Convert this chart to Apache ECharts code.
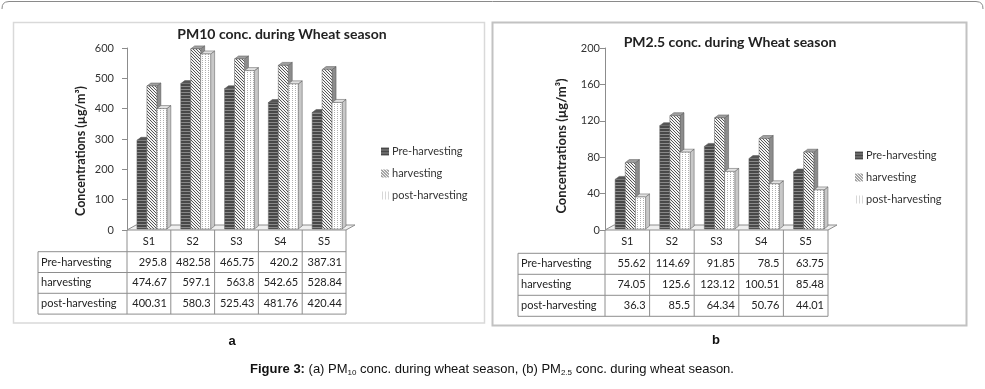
<!DOCTYPE html>
<html>
<head>
<meta charset="utf-8">
<script src="https://cdn.jsdelivr.net/npm/echarts@6/dist/echarts.min.js"></script>
<style>
html, body { margin: 0; padding: 0; background: #fff; }
#chart { width: 985px; height: 389px; }
</style>
</head>
<body>
<div id="chart"></div>
<script>
// sites and seasons
const sites = ['S1', 'S2', 'S3', 'S4', 'S5'];
const stages = ['Pre-harvesting', 'harvesting', 'post-harvesting'];

// PM10 (ug/m3)
const pm10Pre = [295.8, 482.58, 465.75, 420.2, 387.31];
const pm10Harv = [474.67, 597.1, 563.8, 542.65, 528.84];
const pm10Post = [400.31, 580.3, 525.43, 481.76, 420.44];

// PM2.5 (ug/m3)
const pm25Pre = [55.62, 114.69, 91.85, 78.5, 63.75];
const pm25Harv = [74.05, 125.6, 123.12, 100.51, 85.48];
const pm25Post = [36.3, 85.5, 64.34, 50.76, 44.01];

const FONT = 'Lato, "Open Sans", sans-serif';

// small canvas fills that mimic the excel hatch patterns
const makePattern = (w, h, draw) => {
    const c = document.createElement('canvas');
    c.width = w;
    c.height = h;
    draw(c.getContext('2d'));
    return { image: c, repeat: 'repeat' };
};
const patPre = makePattern(3, 3, (ctx) => {
    ctx.fillStyle = '#484848';
    ctx.fillRect(0, 0, 3, 3);
    ctx.fillStyle = '#8a8a8a';
    ctx.fillRect(0, 2, 3, 1);
});
const patHarv = makePattern(3, 3, (ctx) => {
    ctx.fillStyle = '#f4f4f4';
    ctx.fillRect(0, 0, 3, 3);
    ctx.fillStyle = '#555555';
    for (let i = 0; i < 3; i++) ctx.fillRect(i, i, 1, 1);
});
const patPost = makePattern(3, 2, (ctx) => {
    ctx.fillStyle = '#ffffff';
    ctx.fillRect(0, 0, 3, 2);
    ctx.fillStyle = '#b0b0b0';
    ctx.fillRect(1, 0, 1, 1);
});
const fills = [patPre, patHarv, patPost];
const sideFills = ['#3a3a3a', '#8c8c8c', '#c8c8c8'];
const topFills = ['#555555', '#a0a0a0', '#e2e2e2'];

// pseudo 3d column
const bar3d = (k) => (params, api) => {
    const base = api.coord([api.value(0), 0]);
    const top = api.coord([api.value(0), api.value(1)]);
    const band = api.size([1, 0])[0];
    const s = band / 44;
    const w = 10 * s;
    const left = base[0] + (-12 + k * 10) * s;
    const dx = 4, dy = 3;
    const y0 = base[1] - 1, y1 = top[1];
    return {
        type: 'group',
        children: [
            {
                type: 'polygon',
                shape: { points: [[left + w, y1], [left + w + dx, y1 - dy], [left + w + dx, y0 - dy], [left + w, y0]] },
                style: { fill: sideFills[k], stroke: '#555', lineWidth: 0.5 }
            },
            {
                type: 'polygon',
                shape: { points: [[left, y1], [left + dx, y1 - dy], [left + w + dx, y1 - dy], [left + w, y1]] },
                style: { fill: topFills[k], stroke: '#555', lineWidth: 0.5 }
            },
            {
                type: 'rect',
                shape: { x: left, y: y1, width: w, height: y0 - y1 },
                style: { fill: fills[k], stroke: '#666', lineWidth: 0.5 }
            }
        ]
    };
};

const panels = [
    {
        title: 'PM10 conc. during Wheat season', titleX: 282, titleY: 27,
        values: [pm10Pre, pm10Harv, pm10Post], max: 600, interval: 100,
        grid: { left: 127, top: 48, width: 219, height: 182 },
        labelMargin: 13, nameGap: 40, nameSize: 12.5, namePad: [0, 24, 0, 0],
        legendLeft: 376, legendTop: 141,
        tableLeft: 38, tableTop: 251.7, rowH: 20.8
    },
    {
        title: 'PM2.5 conc. during Wheat season', titleX: 730, titleY: 35,
        values: [pm25Pre, pm25Harv, pm25Post], max: 200, interval: 40,
        grid: { left: 605, top: 48, width: 223, height: 182 },
        labelMargin: 5, nameGap: 37, nameSize: 13, namePad: [0, 14, 0, 0],
        legendLeft: 850, legendTop: 145,
        tableLeft: 518, tableTop: 253.3, rowH: 21
    }
];

const chart = echarts.init(document.getElementById('chart'), null, { renderer: 'canvas' });

const option = {
    backgroundColor: '#fff',
    animation: false,
    title: panels.map((p) => ({
        text: p.title,
        left: p.titleX,
        top: p.titleY,
        textAlign: 'center',
        padding: 0,
        textStyle: { fontFamily: FONT, fontSize: 14, fontWeight: 'bold', color: '#222' }
    })),
    legend: panels.map((p) => ({
        data: stages,
        orient: 'vertical',
        left: p.legendLeft,
        top: p.legendTop,
        icon: 'rect',
        itemWidth: 8,
        itemHeight: 8,
        itemGap: 11,
        selectedMode: false,
        textStyle: { fontFamily: FONT, fontSize: 11, color: '#333', padding: [0, 0, 0, -2] }
    })),
    grid: panels.map((p) => p.grid),
    xAxis: panels.map((p, a) => ({
        type: 'category',
        gridIndex: a,
        data: sites,
        axisLine: { show: false },
        axisTick: { show: false },
        axisLabel: { margin: 6, fontFamily: FONT, fontSize: 11, color: '#222' }
    })),
    yAxis: panels.map((p, a) => ({
        type: 'value',
        gridIndex: a,
        min: 0,
        max: p.max,
        interval: p.interval,
        name: 'Concentrations (µg/m³)',
        nameLocation: 'middle',
        nameRotate: 90,
        nameGap: p.nameGap,
        nameTextStyle: { fontFamily: FONT, fontSize: p.nameSize, fontWeight: 'bold', color: '#222', padding: p.namePad },
        axisLine: { show: true, lineStyle: { color: '#8c8c8c' } },
        axisTick: { show: true, length: 5, lineStyle: { color: '#8c8c8c' } },
        axisLabel: { margin: p.labelMargin, fontFamily: FONT, fontSize: 11, color: '#333' },
        splitLine: { show: false }
    })),
    series: []
};

panels.forEach((p, a) => {
    stages.forEach((name, k) => {
        option.series.push({
            type: 'custom',
            name: name,
            xAxisIndex: a,
            yAxisIndex: a,
            itemStyle: { color: fills[k] },
            encode: { x: 0, y: 1 },
            data: p.values[k].map((v, i) => [i, v]),
            renderItem: bar3d(k)
        });
    });
});

chart.setOption(option);

// frames, floors, data tables and caption
const graphics = [];
const line = (x1, y1, x2, y2, color) => ({
    type: 'line', z: 5,
    shape: { x1, y1, x2, y2 },
    style: { stroke: color || '#8e8e8e', lineWidth: 1 }
});

graphics.push({
    type: 'polyline', z: 0,
    shape: { points: [[2, 9], [2.4, 5.5], [3.6, 3.4], [5.6, 2.1], [9, 1.5], [976, 1.5], [979.4, 2.1], [981.4, 3.4], [982.6, 5.5], [983, 9]] },
    style: { stroke: '#8a8a8a', lineWidth: 1, fill: null }
});
graphics.push({
    type: 'rect', z: 0,
    shape: { x: 13.5, y: 22.5, width: 471, height: 300.5 },
    style: { fill: null, stroke: '#d9d9d9', lineWidth: 1.5 }
});
graphics.push({
    type: 'rect', z: 0,
    shape: { x: 492.5, y: 22.5, width: 474, height: 303 },
    style: { fill: null, stroke: '#c2c2c2', lineWidth: 2 }
});

panels.forEach((p, a) => {
    const c0 = chart.convertToPixel({ xAxisIndex: a }, 0);
    const c1 = chart.convertToPixel({ xAxisIndex: a }, 1);
    const band = c1 - c0;
    const x0 = c0 - band / 2;
    const xEnd = x0 + band * sites.length;
    const yZero = chart.convertToPixel({ yAxisIndex: a }, 0);
    const bottom = p.tableTop + p.rowH * stages.length;

    // 3d floor
    graphics.push({
        type: 'polygon', z: 1,
        shape: { points: [[x0, yZero], [xEnd, yZero], [xEnd + 9, yZero - 5], [x0 + 9, yZero - 5]] },
        style: { fill: '#efefef', stroke: '#8e8e8e', lineWidth: 1 }
    });

    for (let r = 0; r <= stages.length; r++) {
        const y = p.tableTop + r * p.rowH;
        graphics.push(line(p.tableLeft, y, xEnd, y));
    }
    graphics.push(line(p.tableLeft, p.tableTop, p.tableLeft, bottom));
    for (let i = 0; i <= sites.length; i++) {
        const x = x0 + i * band;
        graphics.push(line(x, yZero, x, bottom));
    }
    stages.forEach((name, r) => {
        const yc = p.tableTop + r * p.rowH + p.rowH / 2;
        graphics.push({
            type: 'text', z: 6, x: p.tableLeft + 3, y: yc,
            style: { text: name, fontFamily: FONT, fontSize: 11, fill: '#222', align: 'left', verticalAlign: 'middle' }
        });
        p.values[r].forEach((v, i) => {
            graphics.push({
                type: 'text', z: 6, x: x0 + (i + 1) * band - 4, y: yc,
                style: { text: String(v), fontFamily: FONT, fontSize: 11, fill: '#222', align: 'right', verticalAlign: 'middle' }
            });
        });
    });
});

graphics.push({
    type: 'text', z: 6, x: 232, y: 341,
    style: { text: 'a', fontFamily: '"Liberation Sans", Arial, sans-serif', fontSize: 13, fontWeight: 'bold', fill: '#111', align: 'center', verticalAlign: 'middle' }
});
graphics.push({
    type: 'text', z: 6, x: 716, y: 340,
    style: { text: 'b', fontFamily: '"Liberation Sans", Arial, sans-serif', fontSize: 13, fontWeight: 'bold', fill: '#111', align: 'center', verticalAlign: 'middle' }
});
graphics.push({
    type: 'text', z: 6, x: 492, y: 369,
    style: {
        text: '{b|Figure 3:} (a) PM{s|10} conc. during wheat season, (b) PM{s|2.5} conc. during wheat season.',
        fontFamily: '"Liberation Sans", Arial, sans-serif',
        fontSize: 13,
        lineHeight: 16,
        fill: '#111',
        align: 'center',
        verticalAlign: 'middle',
        rich: {
            b: { fontFamily: '"Liberation Sans", Arial, sans-serif', fontSize: 13, fontWeight: 'bold', fill: '#111', lineHeight: 16 },
            s: { fontFamily: '"Liberation Sans", Arial, sans-serif', fontSize: 8, fill: '#111', verticalAlign: 'bottom', lineHeight: 8 }
        }
    }
});

chart.setOption({ graphic: graphics });
</script>
</body>
</html>
